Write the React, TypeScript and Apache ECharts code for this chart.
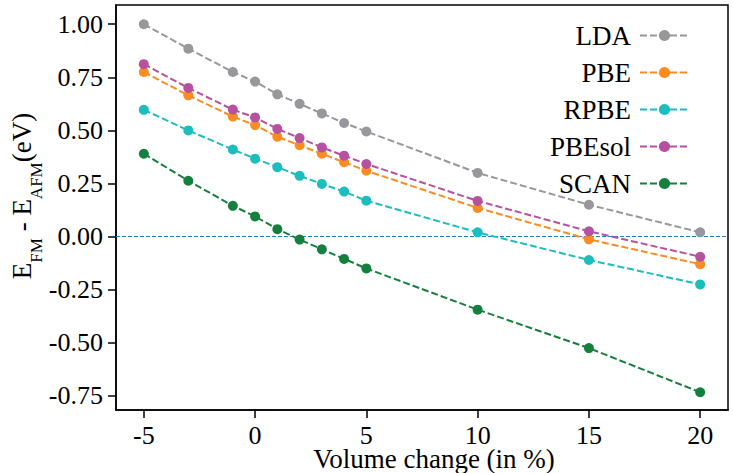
import React, { useEffect, useRef } from "react";
import * as echarts from "echarts";

const xValues = [-5, -3, -1, 0, 1, 2, 3, 4, 5, 10, 15, 20];
const seriesNames = ["LDA", "PBE", "RPBE", "PBEsol", "SCAN"];
const lda = [1.0, 0.885, 0.775, 0.73, 0.67, 0.625, 0.58, 0.535, 0.495, 0.3, 0.15, 0.02];
const pbe = [0.775, 0.665, 0.565, 0.525, 0.47, 0.43, 0.39, 0.35, 0.31, 0.135, -0.013, -0.13];
const rpbe = [0.597, 0.5, 0.41, 0.367, 0.327, 0.286, 0.248, 0.212, 0.169, 0.02, -0.11, -0.225];
const pbesol = [0.812, 0.7, 0.598, 0.561, 0.507, 0.464, 0.42, 0.381, 0.342, 0.168, 0.025, -0.095];
const scan = [0.39, 0.263, 0.145, 0.095, 0.035, -0.014, -0.06, -0.105, -0.15, -0.344, -0.525, -0.733];
const xTicks = [-5, 0, 5, 10, 15, 20];
const yTicks = [-0.75, -0.5, -0.25, 0, 0.25, 0.5, 0.75, 1.0];
const colors = ["#98989c", "#fa8c22", "#1bbdbd", "#b6519f", "#15803e"];

const FONT = "'Liberation Serif', 'DejaVu Serif', serif";

export default function App() {
  const ref = useRef<HTMLDivElement>(null);
  useEffect(() => {
    if (!ref.current) return;
    const chart = echarts.init(ref.current, undefined, { renderer: "svg" });
    const allData = [lda, pbe, rpbe, pbesol, scan];
    const series: any[] = seriesNames.map((name, i) => ({
      name,
      type: "line",
      data: xValues.map((x, j) => [x, allData[i][j]]),
      symbol: "circle",
      symbolSize: 10,
      z: 3 + i,
      lineStyle: { color: colors[i], width: 2, type: [7, 3] },
      itemStyle: { color: colors[i] },
    }));
    series[0].markLine = {
      silent: true,
      symbol: "none",
      label: { show: false },
      lineStyle: { color: "#1f7fc4", width: 1, type: [4, 2] },
      data: [{ yAxis: 0 }],
      z: 1,
    };
    chart.setOption({
      animation: false,
      grid: {
        left: 116,
        top: 5,
        right: 5,
        bottom: 63,
        show: true,
        borderColor: "#000",
        borderWidth: 1.5,
        backgroundColor: "transparent",
      },
      xAxis: {
        type: "value",
        min: -6.25,
        max: 21.25,
        splitLine: { show: false },
        axisLine: { show: true, onZero: false, lineStyle: { color: "#000", width: 1.5 } },
        axisTick: { show: true, length: 8, lineStyle: { color: "#000", width: 1.5 }, customValues: xTicks },
        axisLabel: {
          customValues: xTicks,
          color: "#000",
          fontSize: 26,
          lineHeight: 18,
          fontFamily: FONT,
          margin: 16,
          formatter: (v: number) => String(v),
        },
      },
      yAxis: {
        type: "value",
        min: -0.8165,
        max: 1.0905,
        splitLine: { show: false },
        axisLine: { show: true, onZero: false, lineStyle: { color: "#000", width: 1.5 } },
        axisTick: { show: true, length: 8, lineStyle: { color: "#000", width: 1.5 }, customValues: yTicks },
        axisLabel: {
          customValues: yTicks,
          color: "#000",
          fontSize: 26,
          fontFamily: FONT,
          margin: 13,
          formatter: (v: number) => v.toFixed(2),
        },
      },
      legend: {
        orient: "vertical",
        right: 38,
        top: 17,
        align: "right",
        itemWidth: 49,
        itemHeight: 14,
        itemGap: 10,
        textStyle: { fontSize: 27, fontFamily: FONT, color: "#000", padding: [0, 4, 0, 0] },
        data: seriesNames,
      },
      graphic: [
        {
          type: "text",
          x: 434,
          y: 459,
          style: {
            text: "Volume change (in %)",
            fontSize: 27,
            lineHeight: 18,
            fontFamily: FONT,
            fill: "#000",
            align: "center",
            verticalAlign: "middle",
          },
        },
        {
          type: "text",
          x: 22,
          y: 196,
          rotation: Math.PI / 2,
          style: {
            text: "{m|E}{s|FM}{m| - E}{s|AFM}{m|(eV)}",
            fontFamily: FONT,
            fill: "#000",
            align: "center",
            verticalAlign: "middle",
            rich: {
              m: { fontSize: 27, lineHeight: 46, fontFamily: FONT, fill: "#000" },
              s: { fontSize: 17, lineHeight: 17, fontFamily: FONT, fill: "#000", verticalAlign: "bottom" },
            },
          },
        },
      ],
      series,
    });
    return () => chart.dispose();
  }, []);
  return <div ref={ref} style={{ width: 733, height: 473, position: "absolute", left: 0, top: 0 }} />;
}
